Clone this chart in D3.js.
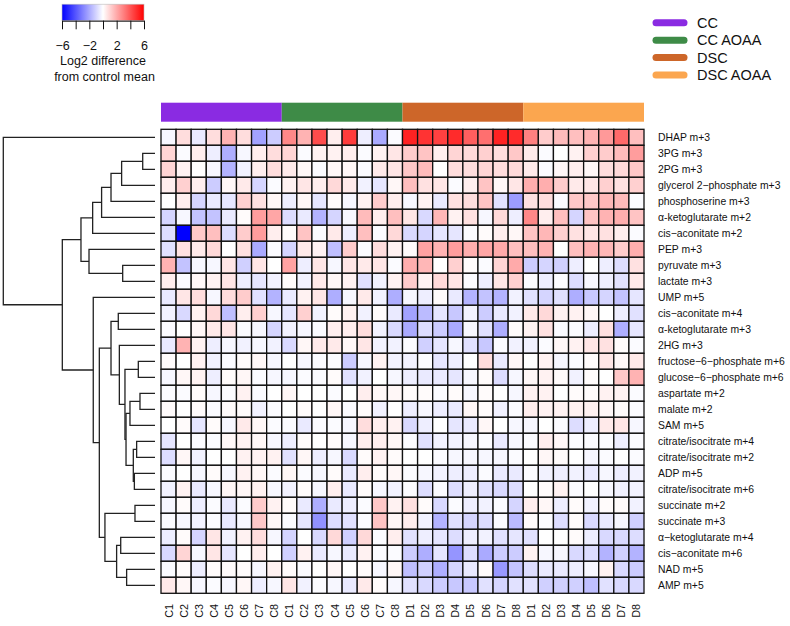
<!DOCTYPE html>
<html>
<head>
<meta charset="utf-8">
<script src="https://cdn.jsdelivr.net/npm/d3@7"></script>
<style>
  html, body { margin: 0; padding: 0; background: #ffffff; }
  svg { display: block; font-family: "Liberation Sans", Arial, Helvetica, sans-serif; }
</style>
</head>
<body>
<svg id="chart" width="790" height="626"></svg>
<script>
// ---------------- DATA ----------------
const groups = ["CC", "CC AOAA", "DSC", "DSC AOAA"];
const groupColors = ["#8a2be2", "#3e8b47", "#cd6629", "#fba64f"];

const colLabels = ["C1","C2","C3","C4","C5","C6","C7","C8",
                   "C1","C2","C3","C4","C5","C6","C7","C8",
                   "D1","D2","D3","D4","D5","D6","D7","D8",
                   "D1","D2","D3","D4","D5","D6","D7","D8"];
const colGroups = ["CC","CC","CC","CC","CC","CC","CC","CC",
                   "CC AOAA","CC AOAA","CC AOAA","CC AOAA","CC AOAA","CC AOAA","CC AOAA","CC AOAA",
                   "DSC","DSC","DSC","DSC","DSC","DSC","DSC","DSC",
                   "DSC AOAA","DSC AOAA","DSC AOAA","DSC AOAA","DSC AOAA","DSC AOAA","DSC AOAA","DSC AOAA"];

const rowLabels = [
  "DHAP m+3", "3PG m+3", "2PG m+3", "glycerol 2\u2212phosphate m+3", "phosphoserine m+3",
  "\u03b1-ketoglutarate m+2", "cis\u2212aconitate m+2", "PEP m+3", "pyruvate m+3", "lactate m+3",
  "UMP m+5", "cis\u2212aconitate m+4", "\u03b1-ketoglutarate m+3", "2HG m+3",
  "fructose\u22126\u2212phosphate m+6", "glucose\u22126\u2212phosphate m+6", "aspartate m+2", "malate m+2",
  "SAM m+5", "citrate/isocitrate m+4", "citrate/isocitrate m+2", "ADP m+5", "citrate/isocitrate m+6",
  "succinate m+2", "succinate m+3", "\u03b1\u2212ketoglutarate m+4", "cis\u2212aconitate m+6",
  "NAD m+5", "AMP m+5"
];

// log2 difference from control mean, one row per metabolite, 32 samples
const values = [
  [-0.2,0.8,-0.5,0.8,1.8,0.8,-2.2,-1.2,  2.8,1.8,4.2,0.4,4.6,-0.4,-2.0,-0.1,  5.2,4.8,4.5,5.0,3.8,3.4,5.2,5.0,  3.0,1.2,1.6,1.5,1.8,2.4,3.5,1.5],
  [1.0,-0.1,0.4,-0.4,-1.9,-0.2,0.4,0.8,  1.0,-0.1,0.3,0.3,0.4,-0.1,0.3,0.6,  1.2,1.4,0.4,1.0,0.9,1.1,0.8,1.3,  0.5,-0.1,0.0,0.3,1.1,1.2,1.6,2.3],
  [1.0,0.3,0.0,-0.2,-1.8,-0.3,0.4,0.8,  0.5,0.2,-0.1,0.2,0.2,-0.1,0.5,0.6,  1.3,1.6,0.0,0.8,0.8,1.0,0.8,0.9,  0.5,-0.1,0.2,0.4,0.2,0.8,0.9,1.3],
  [0.4,1.1,0.4,-1.2,0.2,0.5,-1.0,-0.1,  0.3,0.6,0.4,0.9,0.5,-0.3,-0.6,0.2,  1.5,0.7,0.6,-0.1,0.4,1.4,0.2,0.6,  1.9,1.9,1.2,0.5,0.6,1.1,0.7,1.1],
  [0.0,0.4,-1.0,-0.5,-0.6,1.1,0.7,0.2,  -0.4,0.2,-0.6,0.1,-0.2,0.3,1.2,0.4,  -0.2,0.3,-0.5,0.7,0.8,1.4,-0.7,-2.3,  0.7,0.8,-0.1,1.3,1.3,1.7,1.6,-0.1],
  [-1.0,-0.2,-1.4,-1.4,-0.5,0.1,2.3,2.1,  -0.8,-0.5,-1.8,-1.0,-0.2,1.6,0.4,1.5,  0.6,-0.9,1.7,0.3,0.7,-0.2,0.9,-0.4,  2.8,0.4,1.5,-1.0,1.4,1.8,1.9,1.4],
  [-0.8,-6.0,1.3,1.5,-0.8,1.2,2.3,0.4,  0.1,1.4,-0.1,0.5,-0.4,1.5,-0.1,0.9,  -0.9,-1.0,-0.6,-0.6,-0.1,0.1,0.4,0.2,  1.4,1.7,1.1,0.7,0.6,0.7,0.4,-0.1],
  [-0.7,0.7,0.5,0.9,0.0,0.7,-2.0,-0.1,  -1.0,0.5,0.3,-1.5,1.2,-0.1,0.8,0.3,  0.1,2.2,1.8,2.3,1.9,2.1,2.0,1.5,  1.5,1.8,0.0,1.5,1.8,1.7,1.2,1.9],
  [1.8,-1.4,-0.2,-0.2,0.6,-1.1,0.6,0.0,  2.2,-0.4,0.6,-0.2,0.6,0.5,0.6,-0.1,  1.9,1.7,0.0,1.1,0.1,-0.1,1.0,2.0,  -1.2,-1.0,-1.1,-0.4,0.0,-0.4,-0.8,0.7],
  [0.4,-0.1,0.2,0.3,0.6,-0.4,-0.6,-0.3,  0.1,-0.3,0.5,0.2,0.3,-0.7,-0.3,0.3,  1.2,0.3,0.9,0.6,-0.1,-0.4,0.6,1.1,  -0.1,-0.4,-0.1,-0.8,-0.2,-0.4,-0.7,0.5],
  [-0.5,0.6,0.8,-0.2,0.8,1.2,-0.7,-1.8,  -0.5,0.3,0.6,-1.9,-0.2,0.5,-0.3,-1.9,  -0.2,-0.4,0.1,-0.5,-1.8,-1.4,-1.8,-0.3,  -0.7,-1.0,-0.7,-1.9,-1.3,-1.0,-1.4,-0.6],
  [-0.3,-0.9,0.3,0.9,-1.5,0.4,1.1,-0.2,  -0.6,1.1,-0.3,0.1,0.3,-0.3,0.1,-0.5,  -2.2,-1.6,-0.6,-1.3,-0.3,-1.2,-0.5,-0.3,  0.5,0.9,0.3,0.3,0.2,0.0,-0.4,-0.7],
  [-0.1,0.0,0.2,0.5,0.6,-0.1,-0.2,-1.0,  -0.3,-0.2,-0.1,0.4,0.4,0.8,-0.3,-0.9,  -2.0,-0.8,-1.2,-2.0,-0.2,-0.7,-1.9,0.1,  0.3,0.7,-0.1,-0.1,-0.4,0.7,-1.9,-0.6],
  [-0.5,1.8,0.3,-0.4,-0.2,-0.3,-0.2,-0.3,  -0.9,0.2,0.5,0.5,0.2,0.6,-0.3,-0.3,  -0.1,-1.1,-0.6,-0.2,-0.7,-1.3,-0.1,-0.3,  -0.3,-0.1,0.2,0.3,0.6,0.7,0.1,-0.1],
  [0.1,0.0,0.3,-0.3,-0.1,0.1,0.2,-0.2,  0.0,-0.2,-0.1,-0.1,-1.2,-0.2,0.3,-0.3,  -0.3,-0.1,-0.6,-0.4,0.0,0.8,-0.5,0.2,  0.0,0.3,-0.2,-0.1,0.1,0.6,0.2,0.5],
  [-0.2,0.2,0.3,-0.4,0.1,0.2,-0.1,-0.2,  -0.2,-0.1,-0.1,0.1,-0.7,-0.3,0.0,-0.2,  -0.4,-0.5,-0.5,-0.6,-0.2,0.1,-0.8,-0.2,  0.2,0.3,0.1,-0.3,0.1,0.0,1.3,1.8],
  [-0.1,-0.1,0.1,-0.2,-0.1,0.3,-0.1,0.0,  0.2,0.0,0.0,-0.1,0.0,0.4,0.2,0.2,  0.1,0.1,-0.1,0.1,-0.2,0.1,0.0,-0.2,  0.3,0.3,0.0,0.1,0.1,0.3,0.3,-0.1],
  [0.1,0.0,0.1,-0.1,0.1,0.1,-0.3,-0.1,  0.0,0.1,0.0,0.2,-0.1,0.1,-0.3,0.0,  -0.4,-0.2,-0.4,-0.5,0.2,0.1,-0.3,-0.1,  0.4,0.3,0.3,0.3,0.3,0.2,0.1,-0.1],
  [0.0,0.1,-0.6,0.1,-0.2,0.5,0.2,-0.1,  -0.1,-0.5,-0.1,-0.1,-0.2,0.8,0.4,0.3,  -0.9,-0.4,0.0,-0.6,-0.5,0.2,0.0,-0.2,  -0.2,0.0,-0.1,-0.8,-0.4,0.5,0.6,-0.2],
  [-0.6,0.0,-0.1,-0.1,0.2,0.3,0.2,-0.2,  -0.4,0.1,0.0,0.1,-0.2,0.4,0.4,0.2,  -0.1,-0.7,-0.3,-0.3,-0.2,-0.1,-0.5,-0.2,  -0.1,0.4,0.2,-0.1,-0.1,-0.1,-0.4,-0.1],
  [-0.8,0.2,-0.3,0.0,0.0,0.3,0.3,0.3,  -0.7,0.2,-0.4,-0.2,-0.9,0.1,0.3,0.1,  0.0,0.0,-0.1,-0.2,-0.2,-0.2,-0.2,-0.1,  0.0,0.2,0.1,0.0,-0.2,-0.1,0.0,-0.1],
  [-0.1,0.0,-0.2,0.1,-0.2,0.3,0.2,-0.1,  0.2,-0.1,-0.2,0.1,-0.5,0.4,0.1,0.2,  -0.1,-0.2,-0.3,-0.4,-0.4,-0.1,-0.5,-0.5,  -0.1,-0.3,-0.4,-0.3,-0.5,-0.2,-0.4,-0.3],
  [-0.3,0.3,-0.5,-0.2,0.2,0.2,0.3,-0.2,  -0.3,0.1,-0.2,0.4,-0.5,0.1,-0.2,-0.3,  -0.1,-0.8,-0.1,-0.8,-0.4,-0.7,-0.9,-0.8,  0.0,0.1,0.3,-0.1,0.0,-0.2,-0.3,-0.3],
  [-0.2,0.1,-0.4,-0.1,-0.5,-0.1,1.2,0.3,  0.1,-0.5,-1.9,-0.5,-0.4,-0.1,1.3,0.3,  0.7,0.1,-0.9,-0.1,-0.4,-0.3,-0.1,-1.0,  0.4,0.2,-0.4,0.1,-0.3,0.1,0.1,-0.3],
  [-0.1,-0.2,-0.3,-0.1,-0.5,-0.2,1.3,0.2,  -0.1,-0.6,-2.6,-0.8,-0.7,-0.1,1.4,0.2,  0.4,-0.3,-1.8,-0.7,-1.0,-0.8,-0.1,-1.6,  0.1,-0.1,-0.8,0.1,-0.9,-0.5,-0.2,-1.1],
  [-0.4,0.1,-1.0,0.6,-0.3,0.3,0.8,-0.2,  -1.0,0.0,-0.9,0.9,-1.1,0.9,-0.1,0.4,  -0.7,-0.4,-0.6,-0.8,-0.4,-0.3,-0.7,-0.6,  -0.7,0.0,0.0,0.1,-0.4,-0.9,-0.9,-0.8],
  [-0.9,1.0,-0.2,0.6,-0.6,0.0,0.4,0.0,  -1.1,0.3,-0.5,-0.2,-0.5,0.3,-0.1,-0.1,  -1.2,-1.9,-0.6,-2.5,-0.8,-2.0,-1.2,-1.2,  0.3,-0.2,-0.2,-0.9,-0.8,-1.8,-1.1,-1.8],
  [-0.1,0.1,-0.4,0.1,0.1,0.1,-0.2,0.3,  0.1,-0.1,0.0,0.2,0.0,0.1,-0.2,0.2,  -1.5,-1.1,-1.9,-1.0,-0.5,0.1,-2.4,-1.4,  -0.8,-0.5,-0.5,-0.4,-0.2,0.3,-0.9,-1.2],
  [0.5,0.2,-0.2,-0.1,-0.2,0.2,-0.4,-0.2,  0.6,-0.3,-0.1,-0.2,-0.5,0.5,0.1,-0.2,  -0.7,-0.9,-1.2,-1.3,-1.3,-0.7,-1.0,-0.7,  -0.7,-1.1,-1.1,-1.1,-1.5,-0.7,-0.9,-0.9]
];

// row dendrogram, hclust style: [left, right, height]; negative = leaf (row index + 1), positive = earlier merge (1-based)
const merges = [
  [-2, -3, 0.81], [1, -4, 2.20], [2, -5, 2.90], [3, -6, 3.52], [4, -7, 4.11],
  [-9, -10, 2.13], [-8, 6, 4.35], [5, 7, 4.88], [-12, -13, 2.42], [-15, -16, 1.10],
  [-17, -18, 0.99], [11, -19, 1.65], [-20, -21, 1.21], [-22, -23, 1.36], [13, 14, 1.43],
  [12, 15, 1.91], [10, 16, 1.98], [-14, 17, 2.35], [9, 18, 2.90], [-24, -25, 1.32],
  [-26, -27, 2.26], [-28, -29, 1.87], [21, 22, 2.53], [20, 23, 3.30], [19, 24, 3.67],
  [-11, 25, 4.07], [8, 26, 6.11], [-1, 27, 10.0]
];

const colorTicks = [-6, -4, -2, 0, 2, 4, 6];
const colorTickLabels = [-6, -2, 2, 6];

// ---------------- CHART ----------------
const svg = d3.select("#chart");
const font = "'Liberation Sans', Arial, Helvetica, sans-serif";

const x = d3.scaleBand().domain(d3.range(colLabels.length)).range([161, 644]).padding(0);
const y = d3.scaleBand().domain(d3.range(rowLabels.length)).range([129.3, 593.3]).padding(0);
const color = d3.scaleLinear().domain([-6, 0, 6]).range(["#0000ff", "#ffffff", "#ff0000"]).clamp(true);

// heatmap cells
const cells = [];
values.forEach((row, r) => row.forEach((v, c) => cells.push({ r, c, v })));
svg.append("g").selectAll("rect").data(cells).join("rect")
  .attr("x", d => x(d.c))
  .attr("y", d => y(d.r))
  .attr("width", x.bandwidth())
  .attr("height", y.bandwidth())
  .attr("fill", d => color(d.v))
  .attr("stroke", "#111")
  .attr("stroke-width", 1.3);

// column annotation bar
const groupScale = d3.scaleOrdinal().domain(groups).range(groupColors);
const groupSpans = groups.map(g => {
  const idx = colGroups.map((cg, i) => cg === g ? i : -1).filter(i => i >= 0);
  return { g, first: d3.min(idx), last: d3.max(idx) };
});
svg.append("g").selectAll("rect").data(groupSpans).join("rect")
  .attr("x", d => x(d.first))
  .attr("width", d => x(d.last) + x.bandwidth() - x(d.first))
  .attr("y", 102.7)
  .attr("height", 19)
  .attr("fill", d => groupScale(d.g));

// row labels
svg.append("g").selectAll("text").data(rowLabels).join("text")
  .attr("x", 658)
  .attr("y", (d, i) => y(i) + y.bandwidth() / 2)
  .attr("dominant-baseline", "central")
  .attr("font-size", 10.4)
  .attr("font-family", font)
  .attr("fill", "#111")
  .text(d => d);

// column labels
svg.append("g").selectAll("text").data(colLabels).join("text")
  .attr("transform", (d, i) => `translate(${x(i) + x.bandwidth() / 2},604) rotate(-90)`)
  .attr("text-anchor", "end")
  .attr("dominant-baseline", "central")
  .attr("font-size", 10.8)
  .attr("font-family", font)
  .attr("fill", "#111")
  .text(d => d);

// dendrogram
const hx = d3.scaleLinear().domain([0, 10]).range([155, 3.3]);
const nodes = merges.map(() => null);
function nodeInfo(ref) {
  if (ref < 0) { const r = -ref - 1; return { x: hx(0), y: y(r) + y.bandwidth() / 2 }; }
  return nodes[ref - 1];
}
const segs = [];
merges.forEach((m, i) => {
  const a = nodeInfo(m[0]), b = nodeInfo(m[1]);
  const nx = hx(m[2]);
  nodes[i] = { x: nx, y: (a.y + b.y) / 2 };
  segs.push(`M${a.x},${a.y}H${nx}V${b.y}H${b.x}`);
});
svg.append("g").selectAll("path").data(segs).join("path")
  .attr("d", d => d)
  .attr("fill", "none")
  .attr("stroke", "#222")
  .attr("stroke-width", 1.3);

// colour key
const defs = svg.append("defs");
const grad = defs.append("linearGradient").attr("id", "keygrad").attr("x1", "0%").attr("x2", "100%");
d3.range(0, 1.0001, 0.05).forEach(t => {
  grad.append("stop").attr("offset", `${t * 100}%`).attr("stop-color", color(-6 + 12 * t));
});
const kx = d3.scaleLinear().domain([-6, 6]).range([62, 144]);
svg.append("rect")
  .attr("x", kx(-6)).attr("y", 4.2)
  .attr("width", kx(6) - kx(-6)).attr("height", 16.5)
  .attr("fill", "url(#keygrad)")
  .attr("stroke", "#bbb").attr("stroke-width", 0.6);
const keyAxis = d3.axisBottom(kx)
  .tickValues(colorTicks)
  .tickSize(8.6)
  .tickSizeOuter(0)
  .tickPadding(11.5)
  .tickFormat(d => colorTickLabels.includes(d) ? d3.format("d")(d) : "");
const ka = svg.append("g").attr("transform", "translate(0,20.7)").call(keyAxis);
ka.select(".domain").attr("stroke", "#111").attr("stroke-width", 1);
ka.selectAll(".tick line").attr("stroke", "#111").attr("stroke-width", 1);
ka.selectAll(".tick text").attr("font-size", 12.5).attr("font-family", font).attr("fill", "#111");
svg.append("text").attr("x", 103).attr("y", 65).attr("text-anchor", "middle")
  .attr("font-size", 12.5).attr("font-family", font).attr("fill", "#111").text("Log2 difference");
svg.append("text").attr("x", 104.5).attr("y", 80.5).attr("text-anchor", "middle")
  .attr("font-size", 12.5).attr("font-family", font).attr("fill", "#111").text("from control mean");

// group legend
const ly = d3.scalePoint().domain(groups).range([22.7, 75]);
const lg = svg.append("g").selectAll("g").data(groups).join("g");
lg.append("line")
  .attr("x1", 656).attr("x2", 684)
  .attr("y1", d => ly(d)).attr("y2", d => ly(d))
  .attr("stroke", d => groupScale(d))
  .attr("stroke-width", 7)
  .attr("stroke-linecap", "round");
lg.append("text")
  .attr("x", 697).attr("y", d => ly(d))
  .attr("dominant-baseline", "central")
  .attr("font-size", 14.5).attr("font-family", font).attr("fill", "#111")
  .text(d => d);
</script>
</body>
</html>
